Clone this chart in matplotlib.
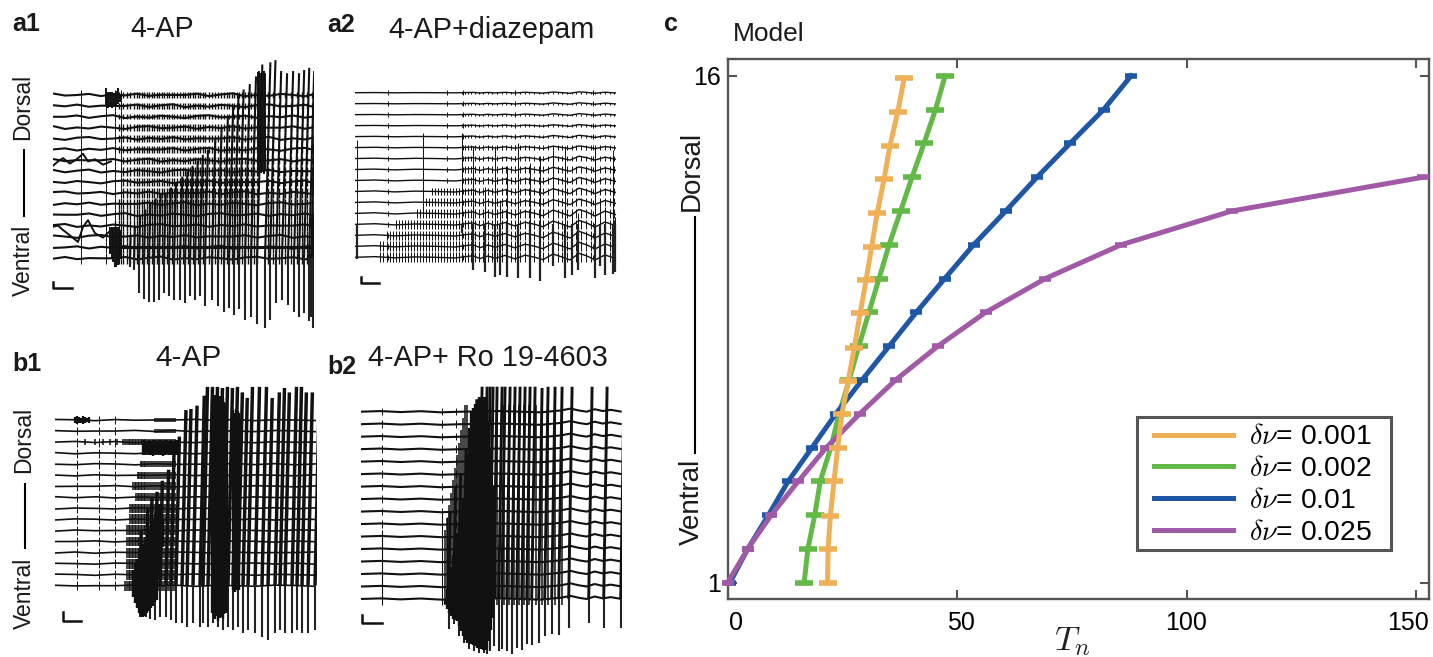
import numpy as np
import matplotlib
matplotlib.use('Agg')
import matplotlib.pyplot as plt
from matplotlib.patches import Rectangle
from matplotlib.transforms import ScaledTranslation

plt.rcParams['font.family'] = ['Liberation Sans', 'DejaVu Sans']
plt.rcParams['mathtext.fontset'] = 'cm'

W, H = 1433, 657
INK = '#111111'

# panel c: model onset times per electrode
levels = [16, 15, 14, 13, 12, 11, 10, 9, 8, 7, 6, 5, 4, 3, 2, 1]
t_001 = [38.5, 37.1, 35.4, 34.1, 32.6, 31.4, 30.2, 28.9, 27.6, 26.3, 24.9, 24.0, 23.2, 22.4, 21.9, 21.8]
y_001 = [15.94, 14.94, 13.94, 12.94, 11.94, 10.94, 9.97, 8.98, 7.95, 6.98, 5.98, 5.0, 4.0, 2.97, 2.0, 1.0]
t_002 = [47.4, 45.3, 42.8, 40.2, 37.7, 35.2, 33.0, 30.8, 28.6, 26.5, 24.3, 22.5, 20.2, 19.0, 17.5, 16.7]
t_01 = [87.9, 81.9, 74.6, 67.4, 60.6, 53.6, 47.3, 41.1, 35.2, 29.3, 23.6, 18.4, 13.2, 8.9, 4.4, 0.5]
t_025 = [151.4, 109.8, 85.7, 69.2, 56.2, 45.8, 36.6, 28.8, 21.5, 15.4, 9.5, 4.4, 0.0]
levels_025 = [13, 12, 11, 10, 9, 8, 7, 6, 5, 4, 3, 2, 1]
x_ticks = [0, 50, 100, 150]
x_tick_labels = ['0', '50', '100', '150']
y_ticks = [1, 16]
y_tick_labels = ['1', '16']
legend_labels = [r'$\delta\nu$= 0.001', r'$\delta\nu$= 0.002', r'$\delta\nu$= 0.01', r'$\delta\nu$= 0.025']

# recordings, x in samples along the sweep, y in electrode spacings
a1_spike_t = [77, 81, 86, 91, 96, 101, 106, 111, 116, 121, 127, 132, 137, 142, 147, 152, 159, 165, 171, 176, 181, 186,
              192, 198, 204, 212, 217, 223, 229, 235, 241, 246, 251, 256, 258, 260]
a1_spike_top = [3, 4, 5, 5.5, 6, 6.5, 7, 7, 7.5, 8, 8.5, 9, 9.5, 10, 10.5, 11, 12, 13, 14, 15, 16, 16.5, 17, 17.7,
                18.8, 19, 19.2, 18.2, 18, 18.2, 18, 18.3, 18.5, 18.2, 18.2, 18]
a1_spike_bottom = [0.2, -0.1, -2.2, -2.7, -3, -3, -2.8, -2.2, -2.5, -2.8, -2.8, -3.1, -2.5, -2.8, -2.5, -3.4, -2.8, -3.4,
                   -3.9, -3.6, -4.2, -3.7, -4.7, -4.4, -5, -5.4, -4.7, -3.1, -2.8, -3.3, -3.9, -4.4, -4, -4.8, -4.4, -5.4]
a1_comb_t = [62, 66, 70, 74, 77, 81, 84, 86, 89, 91, 94, 96, 99, 101, 104, 106, 109, 111, 114, 116, 119, 121, 124, 127, 130,
             132, 135, 137, 140, 142, 145, 147, 150, 152, 156, 159, 162, 165, 168, 171, 174, 176, 179, 181, 184, 186, 189,
             192, 195, 198, 201, 204, 215, 220, 226, 232, 238, 244, 249, 254, 259]
a1_comb_onset = [60, 60, 60, 60, 66, 66, 70, 70, 70, 70, 66, 66, 66, 66, 66, 66]
a1_comb_amp = [0.5, 0.5, 0.5, 0.5, 0.5, 0.45, 0.45, 0.4, 0.4, 0.35, 0.35, 0.3, 0.3, 0.25, 0.25, 0.25]
a1_blip_t = [28, 53, 62, 68]
a1_wob_t = [0, 12, 24, 36, 48, 60, 72, 84, 96, 108, 120, 132, 144, 156, 168, 180, 192, 204, 216, 228, 240, 252, 261]
a1_wob_y = [0.0, 0.12, -0.1, 0.05, 0.15, -0.12, 0.02, -0.08, 0.1, 0.0, -0.12, 0.08, 0.14, -0.05, 0.0, 0.1, -0.1, 0.06,
            -0.04, 0.12, -0.08, 0.02, 0.0]
a1_wavy_t = [0, 5, 10, 17, 25, 30, 35, 42, 50, 58]
a1_wavy_low = [3.9, 4.0, 3.6, 3.1, 2.5, 3.9, 4.5, 3.3, 2.9, 3.6]
a1_wavy_high = [9.5, 9.9, 10.2, 9.7, 10.2, 10.6, 9.9, 10.1, 9.6, 9.9]
a1_burst_t = [57, 58.5, 60, 61.5, 63, 64.5, 66, 67.5, 205, 206.5, 208, 209.5, 211, 212.5, 53, 55, 57, 59, 61, 63, 65, 67]
a1_burst_top = [3.9, 3.9, 3.9, 3.9, 3.9, 3.9, 3.9, 3.6, 18.1, 18.2, 18, 18.1, 18.2, 18, 16.6, 16.3, 16.3, 16.3, 16.2, 16.4, 16.6, 16]
a1_burst_bottom = [1.4, 1, 0.7, 0.2, 0.2, 0.4, 0.7, 0.9, 8.8, 8.6, 8.8, 8.9, 8.7, 9, 15, 14.8, 14.9, 14.8, 15, 14.9, 15.2, 15.4]

a2_spike_t = [2, 68, 107, 118, 130, 140, 145, 152, 163, 175, 185, 198, 210, 217, 223, 240, 245, 250, 258, 260]
a2_spike_top = [11.7, 12.3, 12.3, 11.1, 7.4, 11.1, 6.2, 9.3, 11.4, 9.6, 10.2, 10.8, 11.1, 5, 5, 11.1, 6.2, 5.6, 10.8, 4.7]
a2_spike_bottom = [0.8, 5, 3.2, -0.2, -0.3, -0.8, -0.6, -0.8, -0.9, -0.9, -1.2, 0.2, -0.9, -0.6, -0.2, -0.9, 0.2, -0.6, -0.5, -0.3]
a2_comb_t = [25, 28, 32, 35, 38, 41, 44, 47, 50, 53, 56, 59, 62, 65, 68, 71, 74, 77, 80, 83, 86, 89, 92, 95, 98, 101, 104,
             107, 110, 113, 116, 120, 124, 128, 133, 137, 142, 147, 151, 156, 160, 165, 170, 174, 179, 184, 188, 193, 198,
             203, 207, 212, 217, 221, 226, 231, 236, 240, 245, 250, 255, 259]
a2_comb_onset = [25, 25, 30, 40, 60, 70, 75, 107, 107, 107, 107, 107, 107, 107, 107, 107]
a2_comb_amp = [0.45, 0.45, 0.42, 0.4, 0.38, 0.36, 0.34, 0.3, 0.28, 0.25, 0.2, 0.16, 0.12, 0.1, 0.1, 0.1]
a2_blip_t = [33, 92, 108, 160, 238]
a2_wob_t = [0, 20, 40, 60, 80, 100, 118, 125, 133, 140, 150, 160, 170, 180, 188, 198, 206, 215, 224, 232, 240, 250, 261]
a2_wob_y = [0.0, 0.05, -0.04, 0.03, 0.0, -0.05, 0.12, -0.1, 0.1, -0.08, 0.14, -0.12, 0.16, 0.0, -0.18, 0.25, 0.05, -0.2,
            0.3, 0.1, -0.2, 0.18, -0.1]
a2_wob_gain = [1.2, 1.2, 1.2, 1.2, 1.2, 1.0, 1.0, 0.9, 0.8, 0.7, 0.5, 0.4, 0.3, 0.3, 0.25, 0.25]

b1_spike_t = [85, 91, 95, 100, 105, 111, 116, 121, 127, 132, 138, 145, 148, 153, 158, 163, 168, 173, 178, 183, 188, 193,
              200, 207, 213, 220, 225, 230, 237, 242, 247, 253, 260]
b1_spike_top = [6, 8, 9, 9.5, 10.5, 11.5, 13, 14.5, 16.9, 17, 17.3, 18.2, 19, 19, 19, 18.9, 19, 18.9, 19, 18.5, 18, 19,
                19, 19, 18, 18.5, 18.9, 18.5, 19, 19, 18.5, 18.5, 18]
b1_spike_bottom = [-1.8, -1.8, -2, -2.1, -1.8, -1.8, -2.1, -2.4, -2.4, -2.7, -2.4, -2.7, -2.4, -2.7, -2.4, -2.7, -3, -2.7,
                   -3, -2.7, -3.3, -3, -3.3, -3.6, -3.9, -3.3, -3, -3.3, -3.3, -3, -3.3, -3.3, -3]
b1_comb_t = [30, 40, 48, 55, 62, 68, 70, 72, 73.5, 75, 76.5, 78, 79.5, 81, 82.5, 84, 85.5, 87, 88.5, 90, 92, 94, 96, 98,
             100, 102, 104, 106, 108, 110, 112, 114, 116, 118, 120]
b1_comb_onset = [70, 72, 72, 72, 72, 72, 75, 75, 80, 78, 82, 85, 90, 30, 100, 100]
b1_comb_amp = [0.45, 0.45, 0.45, 0.45, 0.45, 0.45, 0.45, 0.4, 0.35, 0.35, 0.3, 0.25, 0.2, 0.3, 0.15, 0.15]
b1_blip_t = [22, 44, 60]
b1_wob_t = [0, 20, 40, 60, 80, 100, 120, 140, 160, 180, 200, 220, 240, 261]
b1_wob_y = [0.0, 0.06, -0.04, 0.05, -0.06, 0.03, 0.0, -0.05, 0.05, 0.02, -0.06, 0.04, -0.02, 0.0]
b1_burst_t = [157, 158.5, 160, 161.5, 163, 164.5, 166, 167.5, 169, 170.5, 172, 178, 179.5, 181, 182.5, 184,
              88, 90, 92, 94, 96, 98, 100, 102, 104, 106, 108, 110, 112, 114, 116, 118, 120, 122, 124,
              78, 80, 82, 84, 86, 88, 90, 92, 94, 96, 98, 100, 102, 104, 106, 108,
              20, 22, 24, 26, 28, 30, 32, 34]
b1_burst_top = [17.8, 18, 18.3, 17.5, 18, 18.2, 17.6, 18, 17.6, 17.5, 17.4, 16.9, 16.6, 17, 16.8, 16.6,
                14.2, 14.2, 14.1, 14.2, 14.1, 14.2, 14.2, 14.1, 14.2, 14.2, 14.1, 14.2, 14.2, 14.1, 14.2, 14.1, 14.2, 14.2, 14.1,
                2.4, 3, 3.4, 3.9, 4.3, 4.8, 5.2, 5.4, 6, 6.6, 7, 7.6, 8, 8.4, 8.4, 7,
                16.3, 16.4, 16.3, 16.2, 16.4, 16.3, 16.2, 16.3]
b1_burst_bottom = [-1.5, -1.8, -2, -1.7, -2.2, -1.9, -1.8, -2, -1.6, -1.5, -1.3, 0.6, 0.4, 0.6, 0.8, 0.6,
                   12.8, 12.8, 12.9, 12.8, 12.8, 12.7, 12.8, 12.9, 12.8, 12.8, 12.7, 12.8, 12.9, 12.8, 12.8, 12.9, 12.8, 12.8, 12.9,
                   0, -0.6, -1, -1.5, -1.8, -1.8, -1.7, -1.5, -1.3, -1, -0.8, -0.5, -0.3, 1.5, 3, 4.5,
                   15.7, 15.6, 15.7, 15.7, 15.6, 15.7, 15.8, 15.7]

b2_spike_t = [88, 93, 98, 103, 108, 113, 118, 123, 126, 129, 133, 138, 141, 146, 151, 156, 161, 166, 171, 178,
              184, 191, 198, 208, 228, 243, 260]
b2_spike_top = [8, 10, 11, 13, 15, 17, 18, 18, 18, 18, 18, 18, 18, 18, 18, 18, 18, 18, 18, 17.9, 18, 18,
                18, 18, 18, 18, 18]
b2_spike_bottom = [-1.4, -1, -2, -2.5, -3, -3.2, -3.3, -3.3, -3.4, -3.2, -2.8, -3.2, -3, -3.2, -3.4, -2.9,
                   -3.1, -2.6, -2.7, -2.5, -2, -1.8, -1.9, -1.3, -0.9, -1.3, -1.3]
b2_sweep_t = [21, 81, 86]
b2_sweep_top = [6.5, 7.9, 7.6]
b2_sweep_bottom = [0.5, 0.5, 0.3]
b2_comb_t = [84, 86, 88, 90, 92, 94, 96, 98, 100, 102, 104, 106, 136, 143, 148, 153, 158, 163, 168, 175, 181, 187, 194, 201]
b2_comb_onset = [84, 84, 84, 84, 84, 84, 86, 88, 90, 92, 94, 96, 98, 100, 102, 104]
b2_comb_amp = [0.5] * 16
b2_blip_t = [21, 81, 95]
b2_wob_t = [0, 20, 40, 60, 80, 100, 140, 180, 200, 210, 218, 226, 234, 242, 250, 261]
b2_wob_y = [0.0, 0.05, -0.03, 0.04, -0.05, 0.0, 0.05, -0.05, 0.1, 0.25, 0.1, 0.0, 0.2, 0.05, 0.15, 0.0]
b2_burst_t = [84, 86, 88, 90, 92, 94, 96, 98, 100, 102, 104, 106, 108, 110, 112, 114, 116, 118, 120, 122, 124, 126, 128,
              130, 132, 134]
b2_burst_top = [1, 1.8, 2.7, 3.6, 4.5, 5.4, 6.3, 7.2, 8.1, 8.9, 10.5, 12.6, 14.7, 16, 16.3, 16.6, 16.9, 17.2, 17.2, 17.2,
                17.2, 17.2, 15, 13, 10, 6]
b2_burst_bottom = [0.6, 0.2, -0.1, -0.4, -0.6, -0.7, -0.8, -1.2, -1.6, -2, -2.3, -2.5, -2.5, -2.6, -2.7, -2.8, -2.9, -3,
                   -3, -3.1, -3.1, -3.1, -2.4, -1.5, -0.5, 1]


def panel_axes(fig, left, right, ch1_y, ch16_y, top_y, bottom_y):
    ax = fig.add_axes([left / W, 1 - bottom_y / H, (right - left) / W, (bottom_y - top_y) / H])
    step = (ch1_y - ch16_y) / 15
    ax.set_xlim(0, right - left)
    ax.set_ylim(1 - (bottom_y - ch1_y) / step, 1 + (ch1_y - top_y) / step)
    ax.axis('off')
    return ax


def draw_traces(ax, lw, spike_lw, tail_lw, tail_top, wob_t, wob_y, wob_gain, roll, spike_t, spike_top, spike_bottom,
                comb_t, comb_onset, comb_amp, comb_lw, blip_t, blip_amp, lag):
    for c in range(1, 17):
        ax.plot(wob_t, c + wob_gain[c - 1] * np.roll(wob_y, c * roll), color=INK, lw=lw, solid_capstyle='butt')
        times = [t for t in comb_t if t >= comb_onset[c - 1]]
        ax.vlines(times, c - comb_amp[c - 1], c + comb_amp[c - 1], color=INK, lw=comb_lw)
        ax.vlines(blip_t, c - blip_amp, c + blip_amp, color=INK, lw=0.7)
    for t, top, bottom in zip(spike_t, spike_top, spike_bottom):
        ys = np.array([max(bottom, 1)] + [c for c in range(2, 17) if bottom < c < top] + [top])
        ax.plot(t + lag * (ys - 1), ys, color=INK, lw=spike_lw, solid_capstyle='butt')
        if bottom < tail_top:
            ax.plot([t, t], [bottom, min(tail_top, top)], color='#222222', lw=tail_lw, solid_capstyle='butt')


def draw_burst(ax, burst_t, burst_top, burst_bottom, lw):
    ax.vlines(burst_t, burst_bottom, burst_top, color=INK, lw=lw)


fig = plt.figure(figsize=(W / 100, H / 100), dpi=100)

# a1
ax = panel_axes(fig, 53, 314, 258.3, 95, 55, 330)
draw_traces(ax, 1.5, 1.5, 1.5, 1, a1_wob_t, a1_wob_y, [1] * 16, 5, a1_spike_t, a1_spike_top, a1_spike_bottom,
            a1_comb_t, a1_comb_onset, a1_comb_amp, 1.0, a1_blip_t, 0.5, 0.3)
ax.plot(a1_wavy_t, a1_wavy_low, color=INK, lw=1.4)
ax.plot(a1_wavy_t, a1_wavy_high, color=INK, lw=1.4)
ax.plot([60, 261], [2, 2], color=INK, lw=2.2)
draw_burst(ax, a1_burst_t, a1_burst_top, a1_burst_bottom, 1.4)

# a2
ax = panel_axes(fig, 355, 617, 257.3, 92.7, 70, 300)
draw_traces(ax, 1.0, 0.7, 1.6, 4, a2_wob_t, a2_wob_y, a2_wob_gain, 0, a2_spike_t, a2_spike_top, a2_spike_bottom,
            a2_comb_t, a2_comb_onset, a2_comb_amp, 0.7, a2_blip_t, 0.25, 0.0)

# b1
ax = panel_axes(fig, 55, 316.7, 585.7, 420, 380, 650)
draw_traces(ax, 1.2, 2.5, 1.5, 1, b1_wob_t, b1_wob_y, [1] * 16, 3, b1_spike_t, b1_spike_top, b1_spike_bottom,
            b1_comb_t, b1_comb_onset, b1_comb_amp, 1.1, b1_blip_t, 0.4, 0.25)
draw_burst(ax, b1_burst_t, b1_burst_top, b1_burst_bottom, 1.7)

# b2
ax = panel_axes(fig, 360.7, 621.7, 599, 411.7, 380, 657)
draw_traces(ax, 1.5, 2.1, 1.5, 1, b2_wob_t, b2_wob_y, [1] * 16, 0, b2_spike_t, b2_spike_top, b2_spike_bottom,
            b2_comb_t, b2_comb_onset, b2_comb_amp, 1.1, b2_blip_t, 0.3, 0.2)
draw_burst(ax, b2_burst_t, b2_burst_top, b2_burst_bottom, 1.7)
draw_burst(ax, b2_sweep_t, b2_sweep_top, b2_sweep_bottom, 0.8)

# c
ax = fig.add_axes([727.5 / W, 1 - 599 / H, (1429 - 727.5) / W, (599 - 59) / H])
colors = ['#EFB158', '#62B945', '#1F57A6', '#A05AA6']
series_t = [t_001, t_002, t_01, t_025]
series_y = [y_001, levels, levels, levels_025]
marker_len = [13, 13, 9, 9]
orders = [6, 3, 4, 5]
for t, y, col, label, ml, z in zip(series_t, series_y, colors, legend_labels, marker_len, orders):
    ax.plot(t, y, color=col, lw=3.6, label=label, zorder=z, clip_on=False)
    ax.plot(t, y, ls='none', marker='_', ms=ml, mew=4, color=col, zorder=z, clip_on=False)
ax.set_xlim(0, 152.8)
ax.set_ylim(0.52, 16.5)
ax.set_xticks(x_ticks)
ax.set_xticklabels(x_tick_labels, fontsize=18)
ax.set_yticks(y_ticks)
ax.set_yticklabels(y_tick_labels, fontsize=18)
ax.tick_params(direction='in', top=True, right=True, length=6.5, width=1.5, color='#555555', pad=9)
ax.tick_params(axis='y', pad=5)
for lab, dx in zip(ax.get_xticklabels(), [9, 4, -1, -8]):
    lab.set_transform(lab.get_transform() + ScaledTranslation(dx / 100, 0, fig.dpi_scale_trans))
for spine in ax.spines.values():
    spine.set_color('#555555')
    spine.set_linewidth(1.7)
ax.legend(loc='center left', bbox_to_anchor=(1154 / W, 1 - 485 / H), bbox_transform=fig.transFigure,
          borderaxespad=0, fontsize=20.4, handlelength=2.8, handletextpad=0.57, labelspacing=0.2, borderpad=0,
          frameon=False)

# texts and scale bars, in reference pixels
over = fig.add_axes([0, 0, 1, 1], zorder=10)
over.set_xlim(0, W)
over.set_ylim(H, 0)
over.axis('off')
over.add_patch(Rectangle((1137.5, 417), 253.5, 133, fill=False, edgecolor='#555555', lw=2.2))
for s, x, y in [('a1', 12, 24), ('a2', 327, 25), ('b1', 12, 364), ('b2', 327, 367), ('c', 664, 24)]:
    over.text(x, y, s, fontsize=18, fontweight='bold', ha='left', va='center', color='#1a1a1a')
for s, x, y, fs in [('4-AP', 162, 29, 20.6), ('4-AP+diazepam', 492, 30, 20.8), ('4-AP', 189, 358, 21.5),
                    ('4-AP+ Ro 19-4603', 488, 358, 20.8)]:
    over.text(x, y, s, fontsize=fs, ha='center', va='center', color='#1a1a1a')
over.text(733, 34, 'Model', fontsize=19, ha='left', va='center', color='#1a1a1a')
over.text(1072, 641, r'$T_n$', fontsize=25, ha='center', va='center', color='#222222')
for x, d_y, v_y, y0, y1 in [(23, 107, 260, 150, 216), (24, 440, 593, 484, 548)]:
    over.text(x, d_y, 'Dorsal', fontsize=16.5, rotation=90, ha='center', va='center', color='#1a1a1a')
    over.text(x, v_y, 'Ventral', fontsize=16.5, rotation=90, ha='center', va='center', color='#1a1a1a')
    over.plot([x + 1, x + 1], [y0, y1], color='black', lw=1.5)
over.text(692, 171, 'Dorsal', fontsize=20, rotation=90, ha='center', va='center', color='#1a1a1a')
over.text(692, 502, 'Ventral', fontsize=20, rotation=90, ha='center', va='center', color='#1a1a1a')
over.plot([695, 695], [217, 453], color='black', lw=1.5)
for x0, x1, y0, y1 in [(53, 72, 282, 288), (361, 379, 277, 283), (63, 81, 612, 621), (362, 382, 615, 623)]:
    over.plot([x0, x0, x1], [y0, y1, y1], color=INK, lw=1.8)

fig.savefig('out.png', dpi=100)
plt.close(fig)
